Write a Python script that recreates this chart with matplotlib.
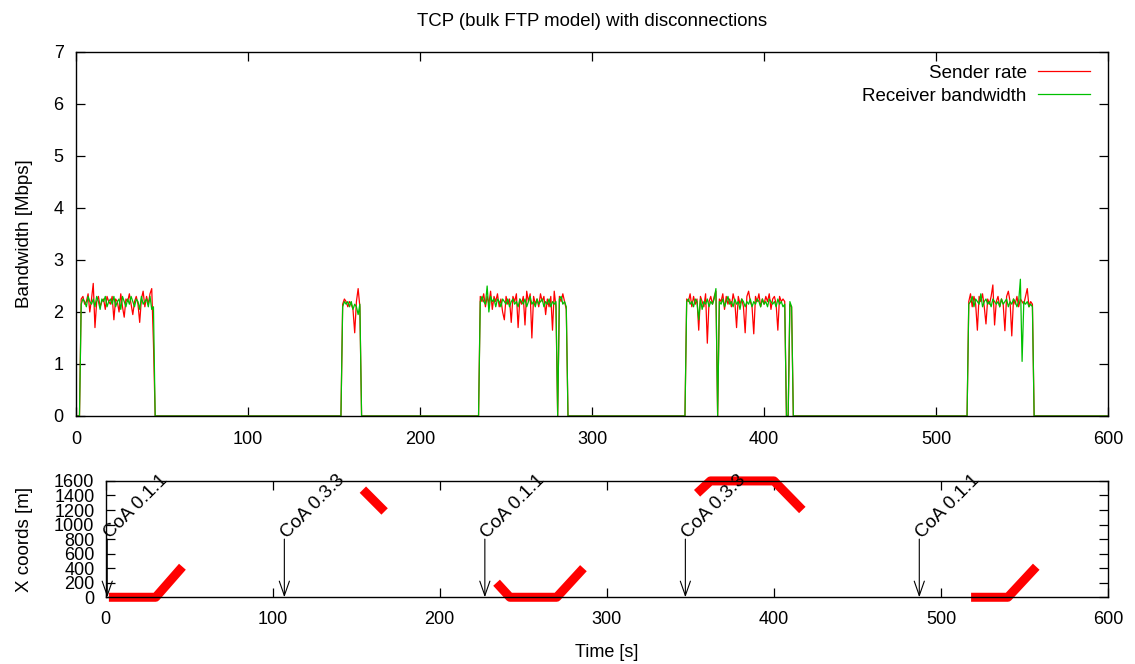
import matplotlib.pyplot as plt

plt.rcParams['font.family'] = ['Liberation Sans', 'DejaVu Sans']
plt.rcParams['font.size'] = 13

# bandwidth samples [Mbps], one per second; each block begins at its start time
sender_starts = [2, 154, 233, 354, 517]
sender_blocks = [
    [0, 2.25, 2.3, 2.15, 2.2, 2.35, 2.0, 2.25, 2.55, 1.7, 2.2, 2.3, 2.1, 2.2, 2.25,
     2.05, 2.3, 2.2, 2.15, 2.3, 1.85, 2.25, 2.2, 2.0, 2.35, 2.1, 1.9, 2.25, 2.2, 2.35,
     2.15, 1.95, 2.2, 2.3, 2.15, 1.8, 2.25, 2.4, 2.1, 2.3, 2.15, 2.35, 2.45, 1.4, 0],
    [0, 2.15, 2.25, 2.2, 2.1, 2.2, 2.15, 2.05, 1.6, 2.2, 2.45, 2.1, 0],
    [0, 0, 2.3, 2.2, 2.35, 2.1, 2.3, 2.15, 2.4, 2.05, 2.3, 2.2, 2.35, 2.1, 2.25, 2.0,
     1.85, 2.3, 2.15, 2.25, 1.8, 2.3, 2.2, 2.35, 1.7, 2.25, 2.15, 2.3, 1.75, 2.4, 2.2,
     2.35, 1.5, 2.3, 2.15, 2.25, 2.1, 2.35, 2.2, 2.3, 1.95, 2.25, 2.1, 2.3, 1.65, 2.4,
     2.1, 0, 2.3, 2.2, 2.35, 2.2, 2.05, 0],
    [0, 2.25, 2.2, 2.35, 2.1, 2.3, 2.15, 2.25, 1.65, 2.3, 2.2, 2.1, 2.35, 1.4, 2.2,
     2.3, 2.15, 2.3, 2.4, 0, 2.25, 2.2, 2.35, 2.05, 2.3, 2.15, 2.25, 2.1, 2.35, 2.2,
     1.7, 2.3, 2.15, 2.25, 2.1, 1.6, 2.3, 2.4, 2.2, 2.1, 1.58, 2.3, 2.2, 2.35, 2.1,
     2.25, 2.15, 2.3, 2.2, 2.35, 2.05, 2.25, 2.3, 2.15, 1.65, 2.3, 2.2, 2.25, 2.2, 0,
     0, 2.15, 2.1, 0],
    [0, 0, 2.2, 2.35, 2.1, 2.3, 2.15, 1.65, 2.3, 2.2, 2.35, 2.1, 1.77, 2.25, 2.15, 2.3,
     2.52, 1.75, 2.2, 2.3, 2.1, 2.25, 2.15, 1.64, 2.3, 2.4, 2.2, 1.54, 2.25, 2.15, 2.3,
     2.1, 2.25, 2.2, 2.15, 2.3, 2.45, 2.1, 2.2, 2.15, 0],
]

receiver_starts = [2, 154, 233, 354, 517]
receiver_blocks = [
    [0, 2.15, 2.25, 2.2, 2.1, 2.3, 2.2, 2.15, 2.25, 2.1, 2.3, 2.2, 2.05, 2.25, 2.2,
     2.3, 2.1, 2.2, 2.25, 2.15, 2.3, 2.1, 2.2, 2.25, 2.05, 2.3, 2.2, 2.1, 2.25, 2.15,
     2.3, 2.2, 2.1, 2.25, 2.2, 2.05, 2.3, 2.15, 2.2, 2.25, 2.1, 2.3, 2.05, 2.1, 0],
    [0, 2.1, 2.2, 2.15, 2.2, 2.1, 2.2, 2.05, 2.15, 2.1, 1.95, 2.15, 0],
    [0, 0, 2.2, 2.3, 2.2, 2.15, 2.5, 2.0, 2.3, 2.2, 2.25, 2.1, 2.25, 2.2, 2.1, 2.25,
     2.2, 2.15, 2.25, 2.1, 2.2, 2.25, 2.15, 2.2, 2.1, 2.25, 2.2, 2.15, 2.25, 2.1, 2.2,
     2.3, 2.15, 2.2, 2.1, 2.25, 2.15, 2.2, 2.25, 2.1, 2.2, 2.15, 2.25, 2.1, 2.2, 2.15,
     2.2, 0, 2.25, 2.3, 2.15, 2.2, 2.1, 0],
    [0, 2.2, 2.25, 2.15, 2.2, 2.1, 2.25, 2.2, 1.85, 2.25, 2.05, 2.2, 2.15, 2.25, 2.1,
     2.2, 2.15, 2.25, 2.45, 0, 2.2, 2.15, 2.25, 2.1, 2.2, 2.3, 2.15, 2.2, 2.1, 2.25,
     2.15, 2.2, 2.05, 2.25, 2.2, 2.1, 2.2, 2.15, 2.25, 2.1, 2.2, 2.15, 2.25, 2.2, 2.1,
     2.25, 2.15, 2.2, 2.1, 2.25, 2.2, 2.15, 2.2, 2.1, 2.25, 2.15, 2.2, 2.1, 2.15, 0,
     0, 2.2, 2.1, 0],
    [0, 0, 2.15, 2.2, 2.3, 2.1, 2.25, 2.2, 2.15, 2.35, 2.1, 2.2, 2.25, 2.15, 2.2, 2.1,
     2.25, 2.2, 2.15, 2.2, 2.1, 2.25, 2.15, 2.2, 2.25, 2.1, 2.2, 2.15, 2.25, 2.2, 2.1,
     2.2, 2.63, 1.05, 2.2, 2.15, 2.2, 2.1, 2.15, 2.1, 0],
]

# x coordinate of the mobile node [m], corner points of each period
pos_times = [[2, 30, 46], [154, 167], [234, 242, 270, 286],
             [354, 362, 400, 417], [518, 540, 557]]
pos_x = [[0, 0, 420], [1480, 1180], [200, 0, 0, 400],
         [1430, 1600, 1600, 1200], [0, 0, 420]]

handoff_times = [1, 107, 227, 347, 487]
handoff_labels = ['CoA 0.1.1', 'CoA 0.3.3', 'CoA 0.1.1', 'CoA 0.3.3', 'CoA 0.1.1']


def build_series(starts, blocks):
    t, v = [0], [0]
    for s, blk in zip(starts, blocks):
        t += [s + i for i in range(len(blk))]
        v += blk
    t.append(600)
    v.append(0)
    return t, v


def style_axis(ax, xpad, ypad):
    ax.tick_params(direction='in', top=True, right=True, length=6.5, width=0.9,
                   labelsize=13)
    ax.tick_params(axis='x', pad=xpad)
    ax.tick_params(axis='y', pad=ypad)
    for sp in ax.spines.values():
        sp.set_linewidth(1.0)


fig = plt.figure(figsize=(11.35, 6.64), dpi=100)
ax = fig.add_axes([0.0670, 0.3735, 0.9093, 0.5482])
ax2 = fig.add_axes([0.0930, 0.1005, 0.8833, 0.1752])

ts, vs = build_series(sender_starts, sender_blocks)
tr, vr = build_series(receiver_starts, receiver_blocks)
ax.plot(ts, vs, color='#ff0000', lw=0.9, label='Sender rate')
ax.plot(tr, vr, color='#00c000', lw=0.9, label='Receiver bandwidth')
ax.set_xlim(0, 600)
ax.set_ylim(0, 7)
ax.set_xticks(range(0, 601, 100))
ax.set_yticks(range(0, 8))
ax.set_ylabel('Bandwidth [Mbps]', fontsize=13.5)
ax.yaxis.set_label_coords(-0.042, 0.5)
ax.set_title('TCP (bulk FTP model) with disconnections', fontsize=13.4, pad=19)
style_axis(ax, 10.5, 9)
ax.legend(loc='upper right', bbox_to_anchor=(1.0, 1.014), frameon=False,
          markerfirst=False, handlelength=2.8, labelspacing=0.3,
          borderaxespad=0.55, handletextpad=0.6, fontsize=13.5)

for pt, px in zip(pos_times, pos_x):
    ax2.plot(pt, px, color='#ff0000', lw=6.5, solid_capstyle='butt', clip_on=False)

for t, lab in zip(handoff_times, handoff_labels):
    ax2.annotate('', xy=(t, 0), xytext=(t, 800),
                 arrowprops=dict(arrowstyle='->,head_length=0.8,head_width=0.28',
                                 color='black', lw=0.8, shrinkA=0, shrinkB=0))
    ax2.text(t + 1.5, 800, lab, rotation=45, rotation_mode='anchor',
             ha='left', va='baseline', fontsize=13.5)

ax2.set_xlim(0, 600)
ax2.set_ylim(0, 1600)
ax2.set_xticks(range(0, 601, 100))
ax2.set_yticks(range(0, 1601, 200))
ax2.set_ylabel('X coords [m]', fontsize=13.5)
ax2.yaxis.set_label_coords(-0.072, 0.5)
ax2.set_xlabel('Time [s]', fontsize=13)
ax2.xaxis.set_label_coords(0.5, -0.40)
style_axis(ax2, 10, 8)

fig.savefig('out.png', dpi=100)
